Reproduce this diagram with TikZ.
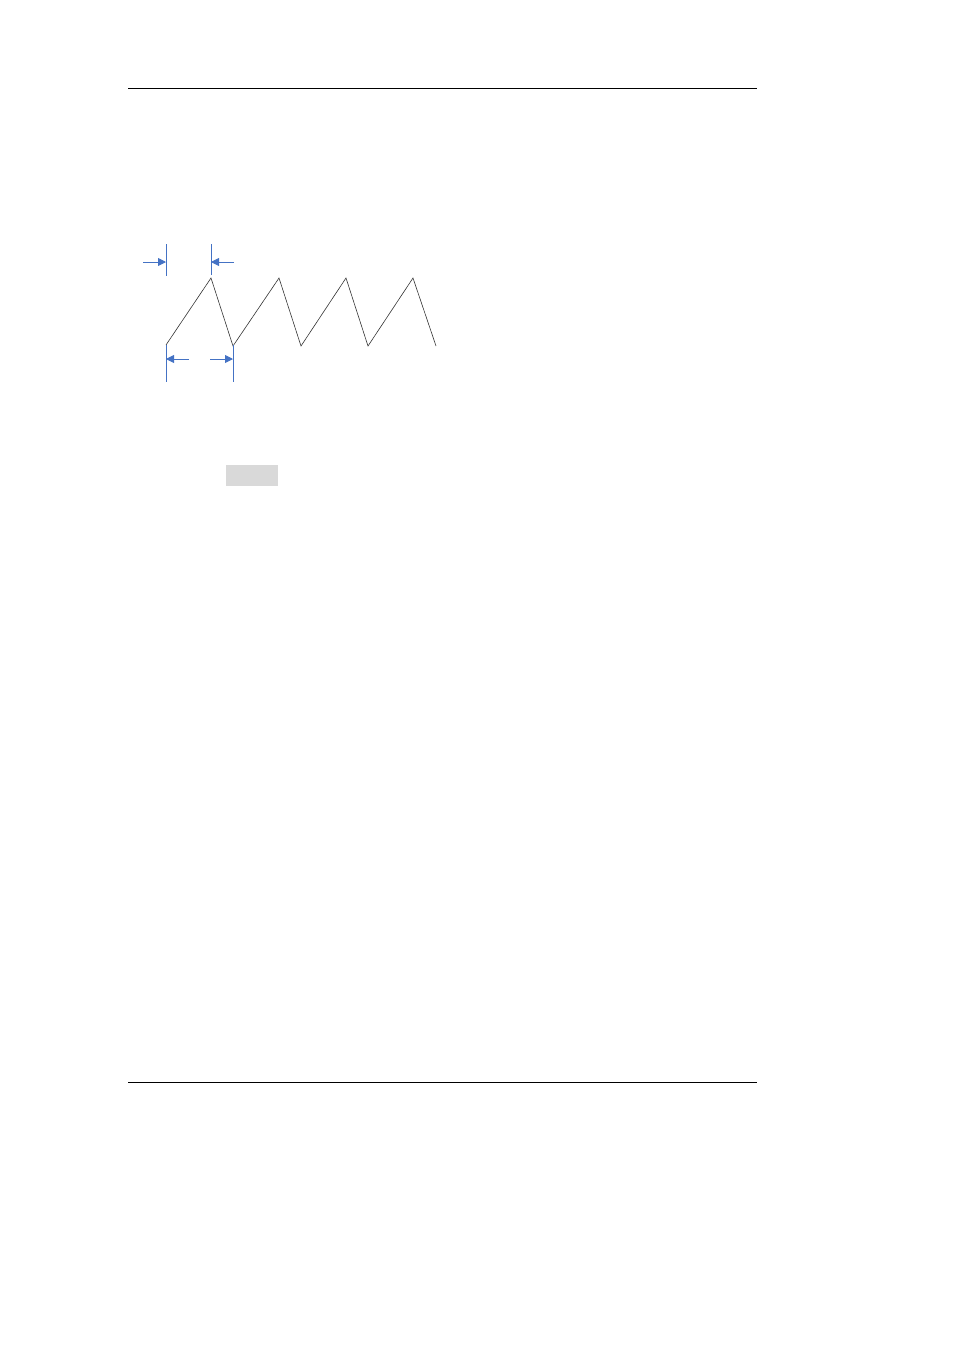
\documentclass[tikz,border=0pt]{standalone}
\usetikzlibrary{arrows.meta}
\definecolor{dimblue}{HTML}{4472C4}
\definecolor{boxgray}{HTML}{D9D9D9}
\tikzset{
  rule/.style={line width=1pt, black},
  wave/.style={line width=0.6pt, black!80},
  dimline/.style={line width=0.9pt, dimblue},
  dimarrow/.style={line width=0.9pt, dimblue, -{Triangle[length=8pt,width=8pt]}},
}
\begin{document}
\begin{tikzpicture}[x=1pt,y=-1pt]
\useasboundingbox (0,0) rectangle (954,1350);
% header / footer rules
\coordinate (tl) at (128,88); \coordinate (tr) at (757,88);
\coordinate (bl) at (128,1082); \coordinate (br) at (757,1082);
\draw[rule] (tl) -- (tr);
\draw[rule] (bl) -- (br);
% sawtooth
\coordinate (s0) at (166,345);
\coordinate (p1) at (211,278);
\coordinate (t1) at (233,346);
\coordinate (p2) at (279,278);
\coordinate (t2) at (301,346);
\coordinate (p3) at (346,278);
\coordinate (t3) at (368,346);
\coordinate (p4) at (413,278);
\coordinate (e) at (436,346);
\draw[wave] (s0) -- (p1) -- (t1) -- (p2) -- (t2) -- (p3) -- (t3) -- (p4) -- (e);
% top dimension
\coordinate (v1a) at (166,244); \coordinate (v1b) at (166,276);
\coordinate (v2a) at (211,244); \coordinate (v2b) at (211,275);
\draw[dimline] (v1a) -- (v1b);
\draw[dimline] (v2a) -- (v2b);
\coordinate (a1s) at (143,262); \coordinate (a1e) at (166,262);
\coordinate (a2s) at (234,262); \coordinate (a2e) at (211,262);
\draw[dimarrow] (a1s) -- (a1e);
\draw[dimarrow] (a2s) -- (a2e);
% bottom dimension
\coordinate (v3a) at (166,345); \coordinate (v3b) at (166,382);
\coordinate (v4a) at (233,345); \coordinate (v4b) at (233,382);
\draw[dimline] (v3a) -- (v3b);
\draw[dimline] (v4a) -- (v4b);
\coordinate (a3s) at (189,359); \coordinate (a3e) at (166,359);
\coordinate (a4s) at (210,359); \coordinate (a4e) at (233,359);
\draw[dimarrow] (a3s) -- (a3e);
\draw[dimarrow] (a4s) -- (a4e);
% gray box
\fill[boxgray] (226,465) rectangle (278,486);
\end{tikzpicture}
\end{document}
